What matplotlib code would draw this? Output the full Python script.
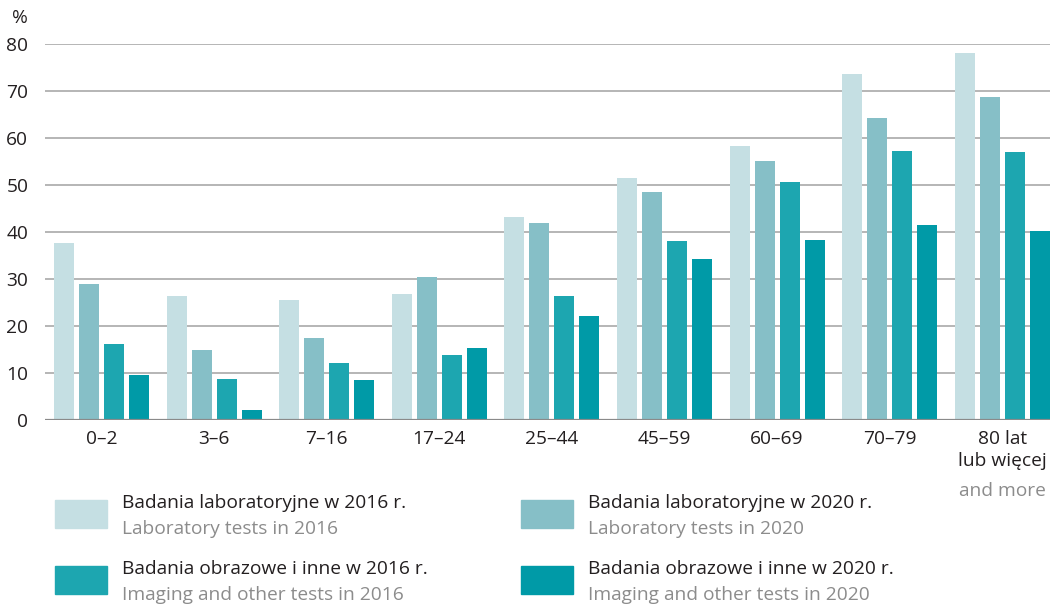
import matplotlib.pyplot as plt
import matplotlib.patches as mpatches
import numpy as np

plt.rcParams['font.family'] = ['Open Sans', 'DejaVu Sans']

groups = ['0–2', '3–6', '7–16', '17–24', '25–44', '45–59', '60–69', '70–79', '80 lat\nlub więcej']
lab_2016 = [37.7, 26.4, 25.5, 26.8, 43.2, 51.5, 58.3, 73.6, 78.1]
lab_2020 = [28.9, 15.0, 17.4, 30.5, 42.0, 48.5, 55.1, 64.2, 68.7]
img_2016 = [16.1, 8.7, 12.2, 13.8, 26.4, 38.1, 50.6, 57.2, 57.0]
img_2020 = [9.6, 2.1, 8.5, 15.3, 22.1, 34.3, 38.3, 41.5, 40.2]

series = [lab_2016, lab_2020, img_2016, img_2020]
colors = ['#c5dfe3', '#86bfc7', '#1da6b0', '#009aa7']
names_pl = ['Badania laboratoryjne w 2016 r.', 'Badania laboratoryjne w 2020 r.',
            'Badania obrazowe i inne w 2016 r.', 'Badania obrazowe i inne w 2020 r.']
names_en = ['Laboratory tests in 2016', 'Laboratory tests in 2020',
            'Imaging and other tests in 2016', 'Imaging and other tests in 2020']

W, H = 1050, 605
FS = 13.8
fig = plt.figure(figsize=(W / 100, H / 100), dpi=100)
ax = fig.add_axes([45 / W, 185 / H, 1 - 45 / W, 376 / H])

x = np.arange(len(groups))
step = 25 / 112.6
width = 20 / 112.6
for i, (vals, c) in enumerate(zip(series, colors)):
    ax.bar(x + (i - 1.5) * step, vals, width=width, color=c, zorder=3)

ax.set_xlim(-0.502, 8.424)
ax.set_ylim(0, 80)
ax.set_yticks(range(0, 81, 10))
ax.yaxis.grid(True, color='#b0b0b0', linewidth=1.3, zorder=0)
ax.axhline(0, color='#8a8a8a', linewidth=1.6, zorder=4)
for s in ax.spines.values():
    s.set_visible(False)
ax.tick_params(length=0, labelsize=FS, colors='#231f20')
ax.tick_params(axis='y', pad=12)
ax.tick_params(axis='x', pad=7)
ax.set_xticks(x)
ax.set_xticklabels(groups, linespacing=1.3)
for lbl in ax.get_yticklabels():
    lbl.set_horizontalalignment('right')

fig.text(12 / W, 1 - 18 / H, '%', fontsize=FS, color='#231f20', va='center')
ax.text(x[-1], -15.1, 'and more', fontsize=FS, color='#8c8c8c', ha='center', va='center')

# legend drawn by hand, two columns
pos = [(55, 500), (521, 500), (55, 566), (521, 566)]
for (px, py), c, pl, en in zip(pos, colors, names_pl, names_en):
    fig.patches.append(mpatches.Rectangle((px / W, 1 - (py + 28) / H), 52 / W, 28 / H,
                                          transform=fig.transFigure, color=c))
    fig.text((px + 67) / W, 1 - (py + 3) / H, pl, fontsize=FS, color='#231f20', va='center')
    fig.text((px + 67) / W, 1 - (py + 29) / H, en, fontsize=FS, color='#8c8c8c', va='center')

fig.savefig('out.png', dpi=100)
